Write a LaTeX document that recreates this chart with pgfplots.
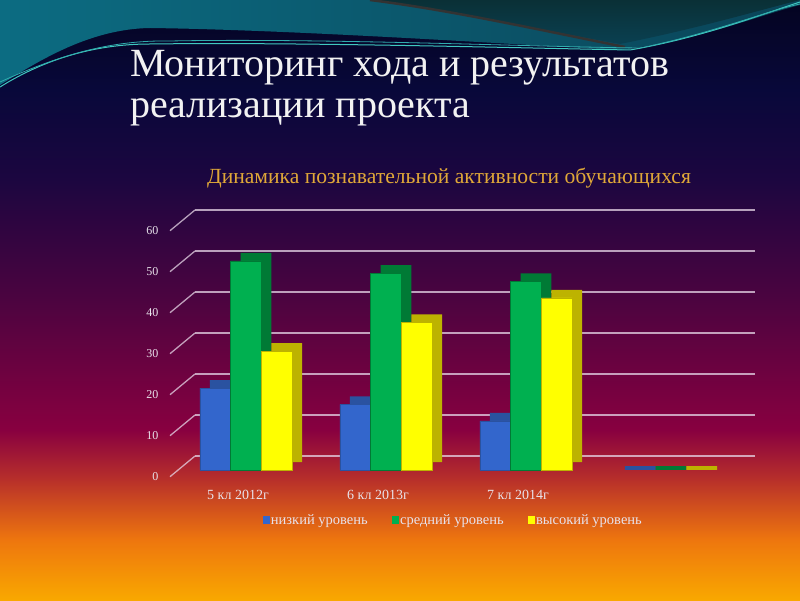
\documentclass[border=0pt]{standalone}
\usepackage{pgfplots}
\pgfplotsset{compat=1.18}
\usepackage{fontspec}
\setmainfont{Liberation Serif}
\definecolor{bgA}{HTML}{F9A800}
\definecolor{bgB}{HTML}{EE760E}
\definecolor{bgC}{HTML}{B8302A}
\definecolor{bgD}{HTML}{880040}
\definecolor{bgE}{HTML}{4C0440}
\definecolor{bgF}{HTML}{1C0640}
\definecolor{bgG}{HTML}{08083A}
\definecolor{bgH}{HTML}{040420}
\definecolor{tealL}{HTML}{0C6C82}
\definecolor{tealD}{HTML}{0A4458}
\definecolor{tealDD}{HTML}{0A3036}
\definecolor{cyanL}{HTML}{40C8C0}
\definecolor{titlec}{HTML}{F2F2F2}
\definecolor{goldc}{HTML}{E0A838}
\definecolor{tickc}{HTML}{E8E2EA}
\definecolor{gridc}{HTML}{E6D6E6}
\definecolor{blueF}{HTML}{3366CC}
\definecolor{blueD}{HTML}{2A52A0}
\definecolor{greenF}{HTML}{00B050}
\definecolor{greenD}{HTML}{007A35}
\definecolor{yellowF}{HTML}{FFFF00}
\definecolor{yellowD}{HTML}{BDB300}
\begin{document}
\begin{tikzpicture}[x=1pt,y=1pt]
\useasboundingbox (0,0) rectangle (800,600);
% background bands
\shade[bottom color=bgA, top color=bgB] (0,0) rectangle (800,60.5);
\shade[bottom color=bgB, top color=bgC] (0,60) rectangle (800,120.5);
\shade[bottom color=bgC, top color=bgD] (0,120) rectangle (800,170.5);
\shade[bottom color=bgD, top color=bgE] (0,170) rectangle (800,300.5);
\shade[bottom color=bgE, top color=bgF] (0,300) rectangle (800,420.5);
\shade[bottom color=bgF, top color=bgG] (0,420) rectangle (800,510.5);
\shade[bottom color=bgG, top color=bgH] (0,510) rectangle (800,600);
% teal wave
\shade[left color=tealL, right color=tealD]
  (0,600) -- (0,515) .. controls (40,540) and (90,571) .. (150,572)
  .. controls (300,570) and (520,555) .. (620,550)
  .. controls (700,560) and (760,585) .. (800,595) -- (800,600) -- cycle;
\shade[top color=tealDD, bottom color=tealD!80!tealDD]
  (370,600) .. controls (450,590) and (540,570) .. (620,556)
  .. controls (700,572) and (760,590) .. (800,600) -- cycle;
\draw[black!80, line width=2.5pt] (370,600) .. controls (450,590) and (540,570) .. (625,553);
\draw[cyanL, line width=1pt] (0,513) .. controls (40,538) and (90,556) .. (150,556)
  .. controls (300,558) and (520,552) .. (630,550) .. controls (700,562) and (760,585) .. (800,598);
\draw[cyanL!70!tealL, line width=0.8pt] (0,518) .. controls (60,545) and (110,560) .. (170,559)
  .. controls (320,562) and (540,553) .. (640,552) .. controls (710,566) and (770,590) .. (800,596);
% titles
\node[anchor=base west, inner sep=0, text=titlec, font=\fontsize{40}{40}\selectfont] at (130,523) {Мониторинг хода и результатов};
\node[anchor=base west, inner sep=0, text=titlec, font=\fontsize{40}{40}\selectfont] at (130,482) {реализации проекта};
\node[anchor=base, inner sep=0, text=goldc, font=\fontsize{21.6}{21.6}\selectfont] at (449,416) {Динамика познавательной активности обучающихся};
\begin{axis}[
  at={(176pt,130pt)}, anchor=south west,
  scale only axis, width=560pt, height=246pt,
  xmin=-0.5, xmax=3.5, ymin=0, ymax=60,
  clip=false,
  ybar, bar width=30.7pt,
  xtick={0,1,2}, xticklabels={5 кл 2012г, 6 кл 2013г, 7 кл 2014г},
  ytick={0,10,...,60},
  /pgf/number format/assume math mode=true,
  axis line style={draw=none}, tick style={draw=none},
  ymajorgrids,
  major grid style={draw=gridc, draw opacity=0.75, line width=1.3pt, xshift=19pt, yshift=14pt},
  yticklabel style={anchor=east, xshift=-14pt, yshift=-6.7pt, text=tickc, font=\fontsize{12}{12}\selectfont},
  xticklabel style={xshift=-8pt, yshift=-12pt, text=tickc, font=\fontsize{14}{14}\selectfont},
  legend style={at={(axis description cs:0.495,-0.203)}, anchor=center, draw=none, fill=none,
    text=tickc, font=\fontsize{14.5}{14.5}\selectfont, legend columns=-1,
    /tikz/every even column/.append style={column sep=22pt}},
]
\pgfplotsinvokeforeach{0,10,20,30,40,50,60}{
  \draw[gridc, draw opacity=0.75, line width=1.3pt] ([xshift=-6pt,yshift=-6.7pt]axis cs:-0.5,#1) -- ([xshift=19pt,yshift=14pt]axis cs:-0.5,#1);
}
% low level
\addplot[fill=blueD, draw=none, bar shift=-30.7pt, xshift=10pt, yshift=8pt, forget plot] coordinates {(0,20) (1,16) (2,12)};
\addplot[fill=blueD, draw=blueD, line width=4pt, bar shift=-30.7pt, xshift=5pt, yshift=2pt, forget plot] coordinates {(3,0)};
\addplot[fill=blueF, draw=blueD, line width=0.4pt, bar shift=-30.7pt,
  legend image code/.code={\fill[blueF] (0pt,-3pt) rectangle (6pt,4pt);}] coordinates {(0,20) (1,16) (2,12)};
% middle level
\addplot[fill=greenD, draw=none, bar shift=0pt, xshift=10pt, yshift=8pt, forget plot] coordinates {(0,51) (1,48) (2,46)};
\addplot[fill=greenD, draw=greenD, line width=4pt, bar shift=0pt, xshift=5pt, yshift=2pt, forget plot] coordinates {(3,0)};
\addplot[fill=greenF, draw=greenD, line width=0.4pt, bar shift=0pt,
  legend image code/.code={\fill[greenF] (0pt,-3pt) rectangle (6pt,4pt);}] coordinates {(0,51) (1,48) (2,46)};
% high level
\addplot[fill=yellowD, draw=none, bar shift=30.7pt, xshift=10pt, yshift=8pt, forget plot] coordinates {(0,29) (1,36) (2,42)};
\addplot[fill=yellowD, draw=yellowD, line width=4pt, bar shift=30.7pt, xshift=5pt, yshift=2pt, forget plot] coordinates {(3,0)};
\addplot[fill=yellowF, draw=yellowD, line width=0.4pt, bar shift=30.7pt,
  legend image code/.code={\fill[yellowF] (0pt,-3pt) rectangle (6pt,4pt);}] coordinates {(0,29) (1,36) (2,42)};
\legend{низкий уровень, средний уровень, высокий уровень}
\end{axis}
\end{tikzpicture}
\end{document}
